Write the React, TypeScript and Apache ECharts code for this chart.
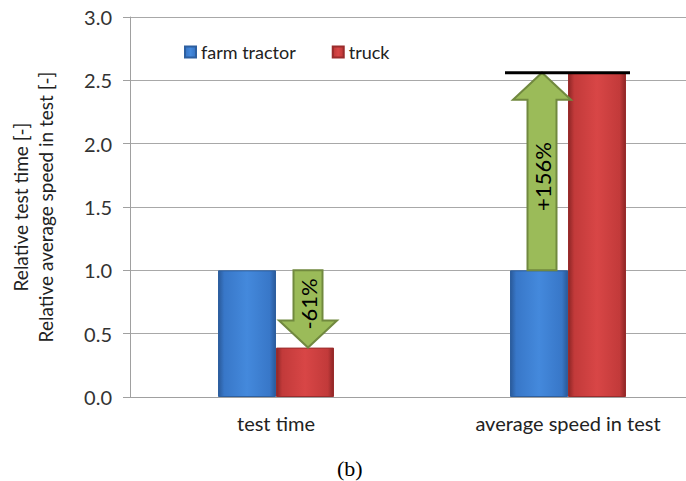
import React, { useEffect, useRef } from "react";
import * as echarts from "echarts";

const categories = ["test time", "average speed in test"];
const seriesNames = ["farm tractor", "truck"];
const tractorValues = [1.0, 1.0];
const truckValues = [0.39, 2.56];
const arrowLabels = ["-61%", "+156%"];
const arrowSide = [1, -1]; // 1 = over truck bar, -1 = over tractor bar
const yAxisTitle = "Relative test time [-]\nRelative average speed in test [-]";
const caption = "(b)";

const FONT = "Lato, 'Open Sans', sans-serif";
const BAR_W = 58;

export default function App() {
  const ref = useRef<HTMLDivElement>(null);
  useEffect(() => {
    if (!ref.current) return;
    const chart = echarts.init(ref.current, undefined, { renderer: "svg" });

    const arrowData = categories.map((_, i) => [i, tractorValues[i], truckValues[i], arrowSide[i]]);
    const refLineData = [[1, truckValues[1]]];

    const grad = (edge: string, mid: string, light: string) =>
      new echarts.graphic.LinearGradient(0, 0, 1, 0, [
        { offset: 0, color: edge },
        { offset: 0.1, color: mid },
        { offset: 0.5, color: light },
        { offset: 0.9, color: mid },
        { offset: 1, color: edge },
      ]);

    chart.setOption({
      animation: false,
      backgroundColor: "#ffffff",
      grid: { left: 128, top: 17, bottom: 84, right: 0, containLabel: false },
      legend: {
        data: seriesNames,
        left: 179,
        top: 38,
        itemWidth: 11,
        itemHeight: 11,
        itemGap: 36,
        icon: "rect",
        textStyle: { fontFamily: FONT, fontSize: 18, color: "#222" },
      },
      xAxis: {
        type: "category",
        data: categories,
        axisLine: { lineStyle: { color: "#a0a0a0", width: 1 } },
        axisTick: { show: false },
        axisLabel: { fontFamily: FONT, fontSize: 20, color: "#222", margin: 16 },
      },
      yAxis: {
        type: "value",
        min: 0,
        max: 3,
        interval: 0.5,
        name: yAxisTitle,
        nameLocation: "middle",
        nameGap: 72,
        nameTextStyle: { fontFamily: FONT, fontSize: 19, color: "#222", lineHeight: 25 },
        axisLine: { show: true, lineStyle: { color: "#a0a0a0" } },
        axisTick: { show: true, length: 7, lineStyle: { color: "#a0a0a0" } },
        splitLine: { lineStyle: { color: "#a8a8a8", width: 1 } },
        axisLabel: {
          fontFamily: FONT,
          fontSize: 20,
          color: "#333",
          margin: 18,
          formatter: (v: number) => v.toFixed(1),
        },
      },
      graphic: [
        {
          type: "text",
          left: 337,
          top: 457,
          style: { text: caption, font: "22px 'Liberation Serif', serif", fill: "#000" },
        },
      ],
      series: [
        {
          name: seriesNames[0],
          type: "bar",
          data: tractorValues,
          barWidth: BAR_W,
          barGap: "0%",
          itemStyle: {
            color: grad("#2a5a9a", "#3877c8", "#4489dc"),
            borderColor: "#2d5f9f",
            borderWidth: 1,
          },
        },
        {
          name: seriesNames[1],
          type: "bar",
          data: truckValues,
          barWidth: BAR_W,
          barGap: "0%",
          itemStyle: {
            color: grad("#8e2626", "#c23a3a", "#d84646"),
            borderColor: "#9a2c2c",
            borderWidth: 1,
          },
        },
        {
          type: "custom",
          name: "arrows",
          z: 5,
          encode: { x: 0, y: [1, 2] },
          data: arrowData,
          renderItem: (params: any, api: any) => {
            const cat = api.value(0);
            const from = api.value(1);
            const to = api.value(2);
            const side = api.value(3);
            const p0 = api.coord([cat, from]);
            const p1 = api.coord([cat, to]);
            const cx = p0[0] + (side * BAR_W) / 2 + 3;
            const y0 = p0[1];
            const y1 = p1[1];
            const dir = y1 > y0 ? 1 : -1;
            const yh = y1 - dir * 27;
            const sw = 14.5;
            const hw = 29;
            const pts = [
              [cx - sw, y0],
              [cx + sw, y0],
              [cx + sw, yh],
              [cx + hw, yh],
              [cx, y1],
              [cx - hw, yh],
              [cx - sw, yh],
            ];
            const ty = (y0 + y1) / 2 - dir * 5;
            return {
              type: "group",
              children: [
                {
                  type: "polygon",
                  shape: { points: pts },
                  style: { fill: "#9bbb59", stroke: "#71893f", lineWidth: 2 },
                },
                {
                  type: "text",
                  x: cx,
                  y: ty,
                  rotation: Math.PI / 2,
                  style: {
                    text: arrowLabels[params.dataIndex],
                    fontFamily: FONT,
                    fontSize: 22,
                    fill: "#000",
                    align: "center",
                    verticalAlign: "middle",
                  },
                },
              ],
            };
          },
        },
        {
          type: "custom",
          name: "refline",
          z: 6,
          encode: { x: 0, y: 1 },
          data: refLineData,
          renderItem: (params: any, api: any) => {
            const p = api.coord([api.value(0), api.value(1)]);
            return {
              type: "line",
              shape: { x1: p[0] - BAR_W - 5, y1: p[1], x2: p[0] + BAR_W + 4, y2: p[1] },
              style: { stroke: "#000", lineWidth: 3 },
            };
          },
        },
      ],
    });
    return () => chart.dispose();
  }, []);
  return (
    <div
      style={{
        position: "absolute",
        left: 0,
        top: 0,
        width: 686,
        height: 481,
        overflow: "hidden",
        background: "#fff",
      }}
    >
      <div ref={ref} style={{ width: 714, height: 481 }} />
    </div>
  );
}
